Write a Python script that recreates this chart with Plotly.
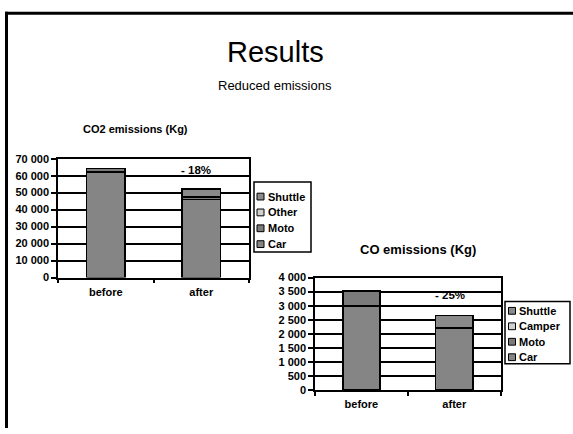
import plotly.graph_objects as go

W, H = 573, 434

# ---------------- data ----------------
periods = ["before", "after"]

co2_series = ["Car", "Moto", "Other", "Shuttle"]
co2_car = [62000, 46100]
co2_moto = [2300, 1400]
co2_other = [0, 0]
co2_shuttle = [0, 4700]
co2_ticks = [0, 10000, 20000, 30000, 40000, 50000, 60000, 70000]
co2_change = "- 18%"

co_series = ["Car", "Moto", "Camper", "Shuttle"]
co_car = [2990, 2200]
co_moto = [540, 0]
co_camper = [0, 0]
co_shuttle = [0, 450]
co_ticks = [0, 500, 1000, 1500, 2000, 2500, 3000, 3500, 4000]
co_change = "- 25%"

main_title = "Results"
sub_title = "Reduced emissions"
co2_title = "CO2 emissions (Kg)"
co_title = "CO emissions (Kg)"

# ---------------- style ----------------
FONT = "Arial, Liberation Sans, sans-serif"
fills = {"Car": "#858585", "Moto": "#7b7b7b", "Other": "#d0d0d0",
         "Camper": "#d0d0d0", "Shuttle": "#8a8a8a"}


def px(x):
    return x / W


def py(y):
    return 1 - y / H


fig = go.Figure()

co2_vals = [co2_car, co2_moto, co2_other, co2_shuttle]
co_vals = [co_car, co_moto, co_camper, co_shuttle]

for name, vals in zip(co2_series, co2_vals):
    fig.add_trace(go.Bar(
        x=periods, y=[v if v else None for v in vals], name=name,
        marker=dict(color=fills[name], line=dict(color="black", width=1.5)),
        xaxis="x", yaxis="y", showlegend=False))

for name, vals in zip(co_series, co_vals):
    fig.add_trace(go.Bar(
        x=periods, y=[v if v else None for v in vals], name=name,
        marker=dict(color=fills[name], line=dict(color="black", width=1.5)),
        xaxis="x2", yaxis="y2", showlegend=False))

bold11 = dict(family=FONT, size=11, color="black", weight="bold")

common_x = dict(type="category", showline=True, linecolor="black", linewidth=1.5,
                mirror=True, ticks="outside", tickson="boundaries", ticklen=4,
                tickcolor="black", tickwidth=1.5, tickfont=bold11, showgrid=False,
                ticklabelstandoff=3, fixedrange=True)
common_y = dict(showline=True, linecolor="black", linewidth=1.5, mirror=True,
                ticks="outside", ticklen=5, tickcolor="black", tickwidth=1.5,
                tickfont=bold11, showgrid=True, gridcolor="black", gridwidth=1.5,
                zeroline=False, tickformat=",d", fixedrange=True)

fig.update_layout(
    width=W, height=H,
    margin=dict(l=0, r=0, t=0, b=0),
    paper_bgcolor="white", plot_bgcolor="white",
    barmode="stack", bargap=0.6,
    separators=", ",
    showlegend=False,
    font=dict(family=FONT, color="black"),
    xaxis=dict(domain=[px(58), px(249)], anchor="y", **common_x),
    yaxis=dict(domain=[py(279.3), py(157)], anchor="x", range=[0, 70000],
               tickvals=co2_ticks, **common_y),
    xaxis2=dict(domain=[px(315), px(500.7)], anchor="y2", **common_x),
    yaxis2=dict(domain=[py(395), py(279.3)], anchor="x2", range=[0, 4000],
                tickvals=co_ticks, **common_y),
)


def ann(text, x, y, size, bold=False, xanchor="center", **kw):
    font = dict(family=FONT, size=size, color="black")
    if bold:
        font["weight"] = "bold"
    d = dict(text=text, x=x, y=y, showarrow=False, font=font,
             xanchor=xanchor, yanchor="middle")
    d.setdefault("xref", "paper")
    d.setdefault("yref", "paper")
    d.update(kw)
    return d


annotations = [
    ann(main_title, px(275), py(47), 29),
    ann(sub_title, px(275), py(82), 13),
    ann(co2_title, px(135), py(127), 11, bold=True),
    ann(co_title, px(418), py(250), 13, bold=True),
    ann(co2_change, "after", 63200, 11.5, bold=True, xref="x", yref="y", xshift=-5),
    ann(co_change, "after", 3380, 11.5, bold=True, xref="x2", yref="y2", xshift=-4),
]

shapes = [
    # slide frame
    dict(type="line", xref="paper", yref="paper", x0=px(6.5), x1=px(6.5),
         y0=py(6), y1=py(434), line=dict(color="black", width=3)),
    dict(type="line", xref="paper", yref="paper", x0=px(5), x1=px(573),
         y0=py(7.5), y1=py(7.5), line=dict(color="black", width=3)),
]


def add_legend(series, box, first_y, step, sw_x, text_x):
    x0, y0, x1, y1 = box
    shapes.append(dict(type="rect", xref="paper", yref="paper",
                       x0=px(x0), x1=px(x1), y0=py(y1), y1=py(y0),
                       line=dict(color="black", width=1.5), fillcolor="white"))
    for i, name in enumerate(reversed(series)):
        yc = first_y + i * step
        shapes.append(dict(type="rect", xref="paper", yref="paper",
                           x0=px(sw_x), x1=px(sw_x + 7), y0=py(yc + 3.5), y1=py(yc - 3.5),
                           line=dict(color="black", width=1), fillcolor=fills[name]))
        annotations.append(ann(name, px(text_x), py(yc), 11, bold=True, xanchor="left"))


add_legend(co2_series, (254, 181, 311, 253), 196, 16.3, 257, 266)
add_legend(co_series, (505, 304, 570, 368), 313.5, 15.9, 508.5, 517)

fig.update_layout(annotations=annotations, shapes=shapes)

fig.write_html("out.html", config={"displayModeBar": False},
               post_script="document.body.style.margin='0';document.body.style.overflow='hidden';")
